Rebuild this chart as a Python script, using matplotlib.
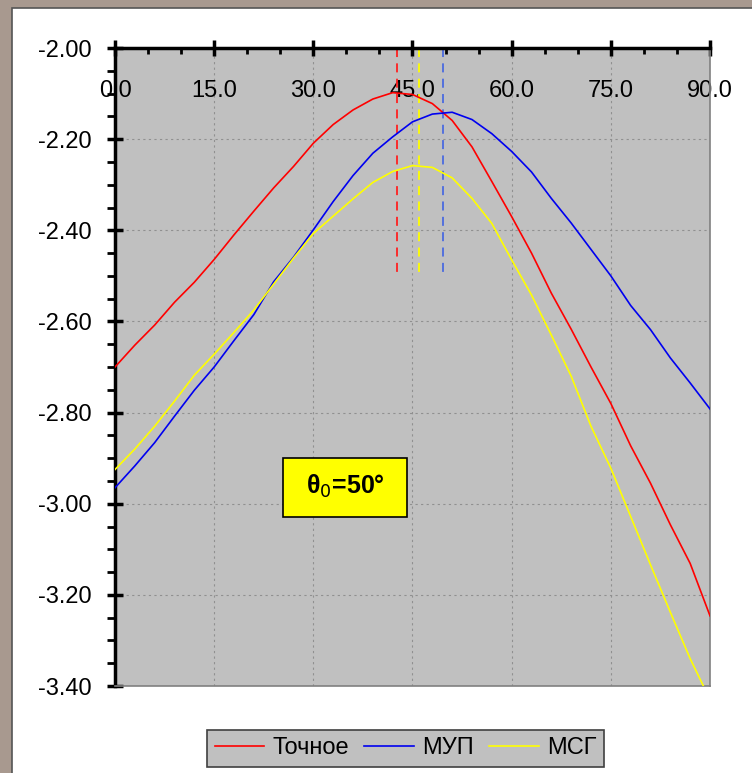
import matplotlib
matplotlib.use("Agg")
import matplotlib.pyplot as plt
from matplotlib.patches import Rectangle
from matplotlib.ticker import MultipleLocator, FormatStrFormatter

plt.rcParams['font.family'] = ['Liberation Sans', 'DejaVu Sans']

# ---- data ----
angle = [0, 3, 6, 9, 12, 15, 18, 21, 24, 27, 30, 33, 36, 39, 42, 45,
         48, 51, 54, 57, 60, 63, 66, 69, 72, 75, 78, 81, 84, 87, 90]
exact = [-2.700, -2.652, -2.608, -2.558, -2.514, -2.464, -2.410, -2.358,
         -2.307, -2.260, -2.209, -2.168, -2.136, -2.112, -2.098, -2.102,
         -2.122, -2.159, -2.217, -2.293, -2.370, -2.450, -2.538, -2.617,
         -2.700, -2.780, -2.873, -2.955, -3.046, -3.131, -3.246]
mup = [-2.965, -2.917, -2.866, -2.808, -2.751, -2.700, -2.642, -2.585,
       -2.513, -2.459, -2.399, -2.337, -2.280, -2.231, -2.195, -2.162,
       -2.145, -2.141, -2.157, -2.188, -2.227, -2.272, -2.330, -2.384,
       -2.442, -2.500, -2.565, -2.618, -2.680, -2.735, -2.792]
msg = [-2.925, -2.880, -2.830, -2.775, -2.718, -2.672, -2.624, -2.575,
       -2.518, -2.461, -2.407, -2.369, -2.331, -2.295, -2.271, -2.258,
       -2.262, -2.285, -2.330, -2.385, -2.465, -2.542, -2.630, -2.720,
       -2.830, -2.922, -3.028, -3.134, -3.238, -3.340, -3.430]
series_names = ['Точное', 'МУП', 'МСГ']
peak_angles = [42.7, 46.0, 49.6]          # red, yellow, blue dashed markers
peak_colors = ['#FF2020', '#FFFF00', '#4A6AE0']
marker_top, marker_bottom = -2.0, -2.5
label_text = 'θ' + r'$_{\mathrm{0}}$' + '=50°'

# ---- figure ----
fig = plt.figure(figsize=(7.52, 7.73), dpi=100, facecolor='#A8998F')
W, H = 752, 773
panel = Rectangle((12 / W, -0.01), (W - 12) / W + 0.02, (H - 8) / H + 0.01,
                  transform=fig.transFigure, facecolor='white', edgecolor='#555555',
                  linewidth=1.2, zorder=-10)
fig.patches.append(panel)

ax = fig.add_axes([115 / W, 1 - 686 / H, (710 - 115) / W, (686 - 48) / H])
ax.set_zorder(1)
ax.set_facecolor('#C0C0C0')
ax.set_xlim(0, 90)
ax.set_ylim(-3.4, -2.0)

ax.grid(True, which='major', color='#909090', linestyle=(0, (2, 3)), linewidth=0.8)
ax.set_axisbelow(True)

ax.plot(angle, exact, color='#FF0000', lw=1.2, label=series_names[0], zorder=3)
ax.plot(angle, mup, color='#0000F0', lw=1.2, label=series_names[1], zorder=3)
ax.plot(angle, msg, color='#FFFF00', lw=1.2, label=series_names[2], zorder=3)

for xa, c in zip(peak_angles, peak_colors):
    ax.plot([xa, xa], [marker_top, marker_bottom], color=c, lw=1.3,
            linestyle=(0, (5, 3.5)), zorder=2)

# annotation box
ax.add_patch(Rectangle((25.4, -3.029), 18.8, 0.129, facecolor='#FFFF00',
                       edgecolor='black', linewidth=1.2, zorder=4))
ax.text(34.8, -2.962, label_text, fontsize=18, fontweight='bold',
        ha='center', va='center', zorder=5)

# spines
for s in ['top', 'left']:
    ax.spines[s].set_color('black')
    ax.spines[s].set_linewidth(2.5)
for s in ['bottom', 'right']:
    ax.spines[s].set_color('#808080')
    ax.spines[s].set_linewidth(1.2)

# x axis on top, labels inside
ax.xaxis.set_major_locator(MultipleLocator(15))
ax.xaxis.set_minor_locator(MultipleLocator(5))
ax.xaxis.set_major_formatter(FormatStrFormatter('%.1f'))
ax.tick_params(axis='x', which='both', bottom=False, labelbottom=False,
               top=True, labeltop=True)
ax.tick_params(axis='x', which='major', direction='inout', length=11, width=2.5,
               labelsize=17, pad=-44.5)
ax.tick_params(axis='x', which='minor', direction='in', length=4, width=2)

# y axis
ax.yaxis.set_major_locator(MultipleLocator(0.2))
ax.yaxis.set_minor_locator(MultipleLocator(0.05))
ax.yaxis.set_major_formatter(FormatStrFormatter('%.2f'))
ax.tick_params(axis='y', which='major', direction='inout', length=12, width=2.5,
               labelsize=17, pad=11)
ax.tick_params(axis='y', which='minor', direction='out', length=6, width=2)
ax.tick_params(axis='y', which='both', right=False)

leg = fig.legend(loc='center', bbox_to_anchor=(405.5 / W, 1 - 748.5 / H), ncol=3,
                 fontsize=17, frameon=True, fancybox=False, framealpha=1,
                 facecolor='#C0C0C0', edgecolor='#404040', handlelength=2.1,
                 handletextpad=0.35, columnspacing=0.65, borderpad=0.3,
                 borderaxespad=0)
leg.get_frame().set_linewidth(1.2)

fig.savefig('out.png', dpi=100, facecolor=fig.get_facecolor())
